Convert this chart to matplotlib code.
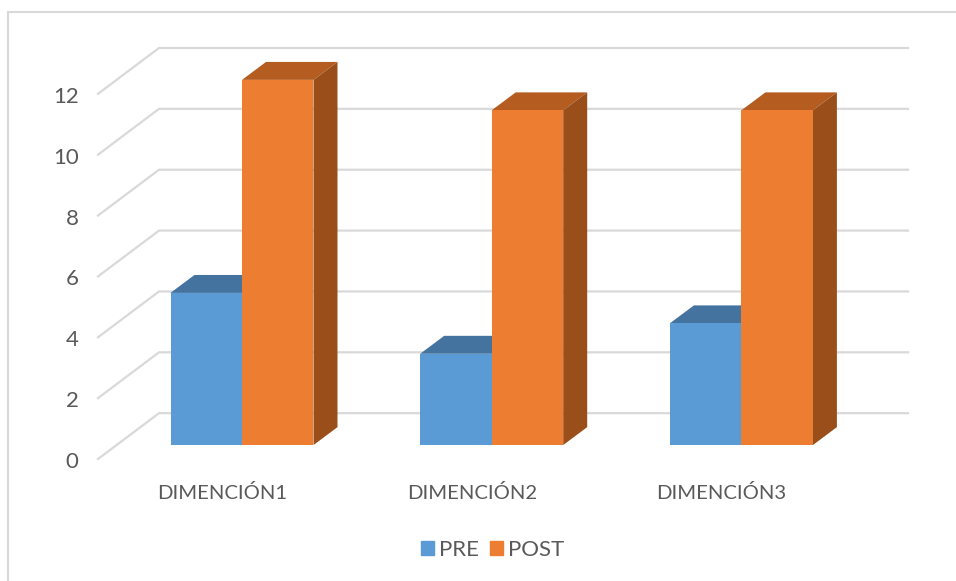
import matplotlib
matplotlib.use('Agg')
import matplotlib.pyplot as plt
from matplotlib.patches import Patch, Polygon, Rectangle

categories = ['DIMENCIÓN1', 'DIMENCIÓN2', 'DIMENCIÓN3']
pre = [5, 3, 4]
post = [12, 11, 11]
y_ticks = [0, 2, 4, 6, 8, 10, 12]

W, H = 956, 581
# pixel measures
PX_X = 249.7
PX_Y = 30.55
X0_PX = 242
Y0_PX = 446.6
LEFT, RIGHT, TOP, BOTTOM = 98, 908, 47, 460

plt.rcParams['font.family'] = ['Lato', 'DejaVu Sans']
text_col = '#595959'
grid_col = '#d9d9d9'

fig = plt.figure(figsize=(W / 100, H / 100), dpi=100)
fig.patch.set_facecolor('white')
fig.add_artist(Rectangle((8 / W, -0.01), 1.1, 1 - 12 / H + 0.01, transform=fig.transFigure,
                         fill=False, ec=grid_col, lw=1.5))

ax = fig.add_axes([LEFT / W, 1 - BOTTOM / H, (RIGHT - LEFT) / W, (BOTTOM - TOP) / H])
ax.set_xlim((LEFT - X0_PX) / PX_X, (RIGHT - X0_PX) / PX_X)
ax.set_ylim((Y0_PX - BOTTOM) / PX_Y, (Y0_PX - TOP) / PX_Y)
ax.patch.set_visible(False)
for s in ax.spines.values():
    s.set_visible(False)

bw = 71.5 / PX_X
dx = 24 / PX_X
dy = 18 / PX_Y
wall_dy = 32 / PX_Y
front_dy = -14 / PX_Y
x_left = ax.get_xlim()[0]
x_back = x_left + 61 / PX_X
x_right = ax.get_xlim()[1]

# back wall and side wall lines
for v in y_ticks:
    ax.plot([x_left, x_back, x_right], [v + front_dy, v + wall_dy, v + wall_dy],
            color=grid_col, lw=1.6, solid_joinstyle='miter', clip_on=False, zorder=1)


def box(x, h, face, top, side):
    ax.bar(x, h, width=bw, align='edge', color=face, zorder=3)
    ax.add_patch(Polygon([(x, h), (x + dx, h + dy), (x + bw + dx, h + dy), (x + bw, h)],
                         fc=top, ec='none', zorder=2))
    ax.add_patch(Polygon([(x + bw, 0), (x + bw + dx, dy), (x + bw + dx, h + dy), (x + bw, h)],
                         fc=side, ec='none', zorder=2))


for i in range(len(categories)):
    box(i - bw, pre[i], '#5b9bd5', '#44739f', '#3b6a94')
    box(i, post[i], '#ed7d31', '#b55d20', '#9a4f1b')

# labels sit one pixel under the line ends
ax.set_yticks([v + front_dy - 1 / PX_Y for v in y_ticks])
ax.set_yticklabels([str(v) for v in y_ticks])
ax.set_xticks([i - 20 / PX_X for i in range(len(categories))])
ax.set_xticklabels(categories)
ax.tick_params(axis='x', length=0, labelsize=14.6, labelcolor=text_col, pad=17)
ax.tick_params(axis='y', length=0, labelsize=16, labelcolor=text_col, pad=14)

handles = [Patch(color='#5b9bd5', label='PRE'), Patch(color='#ed7d31', label='POST')]
fig.legend(handles=handles, loc='center', bbox_to_anchor=(492.5 / W, 1 - 550 / H), ncol=2,
           frameon=False, fontsize=16, labelcolor=text_col, handlelength=0.6, handleheight=0.6,
           handletextpad=0.2, columnspacing=0.5)

fig.savefig('out.png', dpi=100)
